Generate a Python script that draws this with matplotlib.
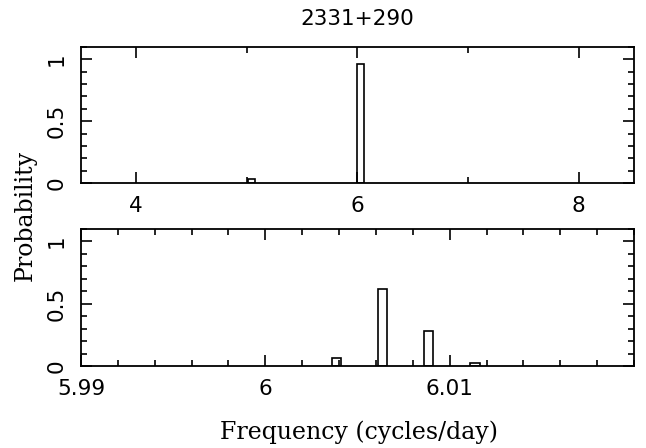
import numpy as np
import matplotlib
matplotlib.use("Agg")
import matplotlib.pyplot as plt
from matplotlib.ticker import MultipleLocator

# coarse search (top panel): bin left edges, bin width, probability
coarse_freq = [5.01, 6.00]
coarse_width = 0.06
coarse_prob = [0.03, 0.96]

# fine search (bottom panel)
fine_freq = [6.0036, 6.0061, 6.0086, 6.0111]
fine_width = 0.00052
fine_prob = [0.068, 0.615, 0.279, 0.026]

title = "2331+290"
tick_font = "DejaVu Sans"
label_font = "DejaVu Serif"
tick_size = 15.5

fig = plt.figure(figsize=(6.46, 4.48), dpi=100)
ax1 = fig.add_axes([0.1254, 0.5915, 0.856, 0.3036])
ax2 = fig.add_axes([0.1254, 0.183, 0.856, 0.306])


def style(ax):
    for s in ax.spines.values():
        s.set_linewidth(1.3)
    ax.set_ylim(0, 1.1)
    ax.yaxis.set_minor_locator(MultipleLocator(0.1))
    ax.set_yticks([0, 0.5, 1])
    ax.set_yticklabels(["0", "0.5", "1"], rotation=90, va="center",
                       family=tick_font, fontsize=tick_size)
    ax.tick_params(which="both", direction="in", top=True, right=True, width=1.2)
    ax.tick_params(which="major", length=8)
    ax.tick_params(axis="x", which="major", pad=9)
    ax.tick_params(axis="y", which="major", pad=10)
    ax.tick_params(which="minor", length=4)


ax1.bar(coarse_freq, coarse_prob, width=coarse_width, align="edge",
        fill=False, edgecolor="black", linewidth=1.2)
ax1.set_xlim(3.5, 8.5)
ax1.xaxis.set_minor_locator(MultipleLocator(1))
style(ax1)
ax1.set_xticks([4, 6, 8])
ax1.set_xticklabels(["4", "6", "8"], family=tick_font, fontsize=tick_size)
ax1.set_title(title, family=tick_font, fontsize=15.5, pad=16)

ax2.bar(fine_freq, fine_prob, width=fine_width, align="edge",
        fill=False, edgecolor="black", linewidth=1.2)
ax2.set_xlim(5.99, 6.02)
ax2.xaxis.set_minor_locator(MultipleLocator(0.002))
style(ax2)
ax2.set_xticks([5.99, 6.0, 6.01])
ax2.set_xticklabels(["5.99", "6", "6.01"], family=tick_font, fontsize=tick_size)

fig.text(0.039, 0.518, "Probability", rotation=90, ha="center", va="center",
         family=label_font, fontsize=17)
fig.text(0.5565, 0.0357, "Frequency (cycles/day)", ha="center", va="center",
         family=label_font, fontsize=17)

fig.savefig("out.png", dpi=100)
